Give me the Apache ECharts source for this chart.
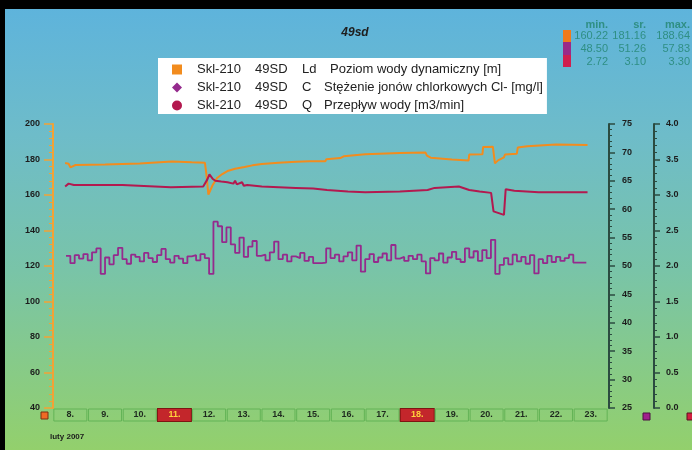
<!DOCTYPE html>
<html>
<head>
<meta charset="utf-8">
<title>49sd</title>
<script src="https://cdn.jsdelivr.net/npm/echarts@6.0.0/dist/echarts.min.js"></script>
<style>
  html, body { margin: 0; padding: 0; background: #000; }
  #chart { width: 692px; height: 450px; }
</style>
</head>
<body>
<div id="chart"></div>
<script>
// dni lutego 2007 (pola na osi czasu)
var days = ['8.', '9.', '10.', '11.', '12.', '13.', '14.', '15.', '16.', '17.', '18.', '19.', '20.', '21.', '22.', '23.'];
var markedDays = ['11.', '18.'];

var seriesNames = [
    'Skl-210 49SD Ld Poziom wody dynamiczny [m]',
    'Skl-210 49SD C Stężenie jonów chlorkowych Cl- [mg/l]',
    'Skl-210 49SD Q Przepływ wody [m3/min]'
];

// Ld - poziom wody dynamiczny [m], czas w dniach
var ldTime = [8.35, 8.45, 8.5, 8.65, 9.5, 10.5, 11.43, 12.0, 12.38, 12.42, 12.48, 12.6, 12.73, 12.88, 13.03,
    13.25, 13.52, 13.75, 14.02, 14.5, 15.01, 15.4, 15.85, 15.88, 16.28, 16.31, 16.38, 16.41, 17.0, 18.0,
    18.74, 18.78, 18.89, 19.5, 19.98, 20.0, 20.38, 20.4, 20.68, 20.74, 20.83, 20.86, 21.0, 21.03, 21.37,
    21.4, 21.67, 21.7, 22.5, 23.41];
var ldValues = [178.0, 177.6, 175.6, 176.9, 177.2, 177.8, 178.9, 178.4, 178.1, 172.0, 160.2, 165.5, 169.6, 171.8, 173.5,
    174.8, 175.8, 176.7, 177.4, 178.2, 178.8, 179.0, 179.0, 180.2, 180.8, 181.6, 181.8, 182.4, 182.9, 183.6,
    183.9, 182.2, 181.0, 180.0, 179.4, 182.8, 182.9, 187.1, 187.2, 177.8, 179.5, 180.6, 181.2, 182.8, 183.2,
    186.8, 187.4, 188.3, 188.4, 188.1];

// C - stezenie chlorkow [mg/l], pomiar co 3 godziny od 8.375
var cStart = 8.375;
var cStep = 0.125;
var cValues = [
    51.8, 50.5, 51.9, 51.3, 52.1,
    51.0, 52.4, 53.1, 48.6, 51.5, 50.3, 51.9, 53.2,
    51.2, 50.4, 52.0, 51.6, 50.8, 52.3, 51.4, 50.7,
    51.9, 53.0, 51.2, 50.6, 51.8, 51.3, 50.5, 51.7,
    51.9, 51.0, 52.1, 51.4, 48.6, 57.8, 57.0, 54.2,
    56.8, 53.8, 52.3, 55.0, 51.6, 53.4, 54.4, 51.8,
    52.0, 51.0, 52.4, 54.3, 51.2, 52.0, 50.8, 51.7,
    51.4, 52.3, 50.9, 51.6, 50.5, 50.5, 50.6, 53.1,
    51.4, 52.0, 50.8, 51.7, 52.4, 51.0, 53.6, 49.0,
    51.2, 52.1, 50.7, 51.5, 52.2, 51.0, 53.7, 51.3,
    51.6, 50.9, 51.8, 51.2, 52.0, 50.8, 48.7, 51.4,
    51.0, 52.2, 50.6, 51.5, 52.5, 51.2, 50.7, 53.1,
    51.5, 52.6, 50.9, 52.8, 51.4, 54.6, 48.6, 50.2,
    51.4, 50.3, 52.0, 50.8, 51.6, 50.4, 51.9, 48.7,
    51.2, 50.5, 51.8, 50.7, 51.6, 50.9, 51.4, 52.0,
    50.6, 50.6, 50.6, 50.6
];

// Q - przeplyw wody [m3/min]
var qTime = [8.35, 8.45, 8.6, 10.0, 11.4, 12.33, 12.45, 12.51, 12.6, 12.68, 12.85, 13.03, 13.2, 13.25, 13.3,
    13.45, 13.5, 13.6, 14.02, 15.0, 15.5, 15.9, 16.5, 17.0, 18.0, 18.8, 19.0, 19.7, 20.0, 20.3,
    20.63, 20.7, 21.0, 21.03, 21.05, 21.3, 22.0, 23.41];
var qValues = [3.12, 3.16, 3.14, 3.14, 3.11, 3.12, 3.22, 3.29, 3.23, 3.20, 3.19, 3.18, 3.16, 3.20, 3.15,
    3.18, 3.13, 3.14, 3.12, 3.10, 3.09, 3.07, 3.05, 3.04, 3.05, 3.07, 3.10, 3.12, 3.07, 3.05,
    3.03, 2.77, 2.72, 2.72, 3.08, 3.06, 3.04, 3.04];

// statystyki w prawym gornym rogu
var statHeader = ['min.', 'sr.', 'max.'];
var statRows = [
    ['160.22', '181.16', '188.64'],
    ['48.50', '51.26', '57.83'],
    ['2.72', '3.10', '3.30']
];

var colors = ['#f28c1e', '#952a8d', '#b3194f'];
var axisDark = '#2b4b40';
var axisOrange = '#f2a236';
var statColor = '#2f8f84';

function pairs(t, v) {
    var res = [];
    for (var i = 0; i < v.length; i++) {
        res.push([t[i], v[i]]);
    }
    return res;
}

var cData = [];
for (var i = 0; i < cValues.length; i++) {
    cData.push([cStart + i * cStep, cValues[i]]);
}

var chart = echarts.init(document.getElementById('chart'));

// tekst statystyk
var statGraphics = [];
var colRight = [608, 646, 690];
for (var c = 0; c < 3; c++) {
    statGraphics.push({
        type: 'text', x: colRight[c], y: 19,
        style: { text: statHeader[c], fill: statColor, font: 'bold 11px "Liberation Sans"', textAlign: 'right' }
    });
    for (var r = 0; r < statRows.length; r++) {
        statGraphics.push({
            type: 'text', x: colRight[c], y: 30 + r * 13,
            style: { text: statRows[r][c], fill: statColor, font: '11px "Liberation Sans"', textAlign: 'right' }
        });
    }
}

var richFont = { fontSize: 13, color: '#222', fontFamily: 'Liberation Sans', lineHeight: 13 };

var option = {
    animation: false,
    backgroundColor: {
        type: 'linear', x: 0, y: 0, x2: 0, y2: 1,
        colorStops: [
            { offset: 0, color: '#5db3dd' },
            { offset: 0.3, color: '#6ebcc9' },
            { offset: 0.6, color: '#79c4a8' },
            { offset: 1, color: '#93d06c' }
        ]
    },
    title: {
        text: '49sd',
        left: 350,
        top: 22,
        textAlign: 'center',
        textStyle: { fontSize: 12, fontStyle: 'italic', fontWeight: 'bold', color: '#1e1e1e', fontFamily: 'Liberation Sans' }
    },
    legend: {
        orient: 'vertical',
        left: 158,
        top: 58,
        backgroundColor: '#ffffff',
        padding: [5, 4, 2, 14],
        itemWidth: 10,
        itemHeight: 10,
        itemGap: 5,
        data: [
            { name: seriesNames[0], icon: 'rect' },
            { name: seriesNames[1], icon: 'diamond' },
            { name: seriesNames[2], icon: 'circle' }
        ],
        formatter: function (name) {
            var p = name.split(' ');
            var code = p[2] === 'Ld' ? 'l' : 'k';
            return '{a|' + p[0] + '}{b|' + p[1] + '}{' + code + '|' + p[2] + '}{d|' + p.slice(3).join(' ') + '}';
        },
        textStyle: {
            fontSize: 13,
            lineHeight: 13,
            color: '#222',
            fontFamily: 'Liberation Sans',
            padding: [0, 0, 0, 10],
            rich: {
                a: echarts.util.extend({ width: 58 }, richFont),
                b: echarts.util.extend({ width: 47 }, richFont),
                l: echarts.util.extend({ width: 28 }, richFont),
                k: echarts.util.extend({ width: 22 }, richFont),
                d: richFont
            }
        }
    },
    grid: {
        left: 53,
        right: 84,
        top: 124,
        bottom: 42,
        outerBoundsMode: 'none'
    },
    xAxis: [
        {
            type: 'value',
            min: 8,
            max: 24,
            show: false
        },
        {
            type: 'category',
            data: days,
            position: 'bottom',
            boundaryGap: true,
            axisLine: { show: false },
            axisTick: { show: false },
            splitLine: { show: false },
            axisLabel: {
                interval: 0,
                margin: 1,
                formatter: function (v) {
                    return markedDays.indexOf(v) > -1 ? '{h|' + v + '}' : '{n|' + v + '}';
                },
                rich: {
                    n: {
                        width: 33, height: 12, lineHeight: 12, align: 'center',
                        fontSize: 9, fontWeight: 'bold', color: '#1f2a1f', fontFamily: 'Liberation Sans',
                        borderColor: '#63b356', borderWidth: 1
                    },
                    h: {
                        width: 33, height: 12, lineHeight: 12, align: 'center',
                        fontSize: 9, fontWeight: 'bold', color: '#ffd23c', fontFamily: 'Liberation Sans',
                        backgroundColor: '#c3262b', borderColor: '#7d1512', borderWidth: 1
                    }
                }
            }
        }
    ],
    yAxis: [
        {
            type: 'value',
            min: 40,
            max: 200,
            interval: 20,
            position: 'left',
            axisLine: { show: true, lineStyle: { color: axisOrange, width: 2 } },
            axisTick: { show: true, length: 9, lineStyle: { color: axisOrange, width: 1.5 } },
            minorTick: { show: true, splitNumber: 5, length: 4, lineStyle: { color: axisOrange } },
            axisLabel: { margin: 13, fontSize: 9, fontWeight: 'bold', color: '#1c1c1c', fontFamily: 'Liberation Sans' },
            splitLine: { show: false }
        },
        {
            type: 'value',
            min: 25,
            max: 75,
            interval: 5,
            position: 'right',
            offset: 1,
            axisLine: { show: true, lineStyle: { color: axisDark, width: 2 } },
            axisTick: { show: true, length: 6, lineStyle: { color: axisDark, width: 1.5 } },
            minorTick: { show: true, splitNumber: 5, length: 3, lineStyle: { color: axisDark } },
            axisLabel: { margin: 13, fontSize: 9, fontWeight: 'bold', color: '#1c1c1c', fontFamily: 'Liberation Sans' },
            splitLine: { show: false }
        },
        {
            type: 'value',
            min: 0,
            max: 4,
            interval: 0.5,
            position: 'right',
            offset: 46,
            axisLine: { show: true, lineStyle: { color: axisDark, width: 2 } },
            axisTick: { show: true, length: 6, lineStyle: { color: axisDark, width: 1.5 } },
            minorTick: { show: true, splitNumber: 5, length: 3, lineStyle: { color: axisDark } },
            axisLabel: {
                margin: 12, fontSize: 9, fontWeight: 'bold', color: '#1c1c1c', fontFamily: 'Liberation Sans',
                formatter: function (v) { return v.toFixed(1); }
            },
            splitLine: { show: false }
        }
    ],
    series: [
        {
            name: seriesNames[0],
            type: 'line',
            xAxisIndex: 0,
            yAxisIndex: 0,
            symbol: 'none',
            color: colors[0],
            lineStyle: { width: 2, color: colors[0] },
            data: pairs(ldTime, ldValues)
        },
        {
            name: seriesNames[1],
            type: 'line',
            xAxisIndex: 0,
            yAxisIndex: 1,
            symbol: 'none',
            step: 'end',
            color: colors[1],
            lineStyle: { width: 1.8, color: colors[1] },
            data: cData
        },
        {
            name: seriesNames[2],
            type: 'line',
            xAxisIndex: 0,
            yAxisIndex: 2,
            symbol: 'none',
            color: colors[2],
            lineStyle: { width: 2, color: colors[2] },
            data: pairs(qTime, qValues)
        }
    ],
    graphic: [
        // czarna ramka
        { type: 'rect', shape: { x: 0, y: 0, width: 692, height: 9 }, style: { fill: '#000' } },
        { type: 'rect', shape: { x: 0, y: 0, width: 5, height: 450 }, style: { fill: '#000' } },
        // pasek kolorow statystyk
        { type: 'rect', shape: { x: 563, y: 30, width: 8, height: 12 }, style: { fill: '#f07a1c' } },
        { type: 'rect', shape: { x: 563, y: 42, width: 8, height: 13 }, style: { fill: '#9a2a88' } },
        { type: 'rect', shape: { x: 563, y: 55, width: 8, height: 12 }, style: { fill: '#cf1f4f' } },
        // znaczniki osi
        { type: 'rect', shape: { x: 41, y: 412, width: 7, height: 7 }, style: { fill: '#f06a24', stroke: '#7a3010', lineWidth: 1 } },
        { type: 'rect', shape: { x: 643, y: 413, width: 7, height: 7 }, style: { fill: '#a0208c', stroke: '#4a1040', lineWidth: 1 } },
        { type: 'rect', shape: { x: 687, y: 413, width: 7, height: 7 }, style: { fill: '#d02040', stroke: '#5a1020', lineWidth: 1 } },
        {
            type: 'text', x: 50, y: 433,
            style: { text: 'luty 2007', fill: '#1c1c1c', font: 'bold 8px "Liberation Sans"' }
        }
    ].concat(statGraphics)
};

chart.setOption(option);
</script>
</body>
</html>
